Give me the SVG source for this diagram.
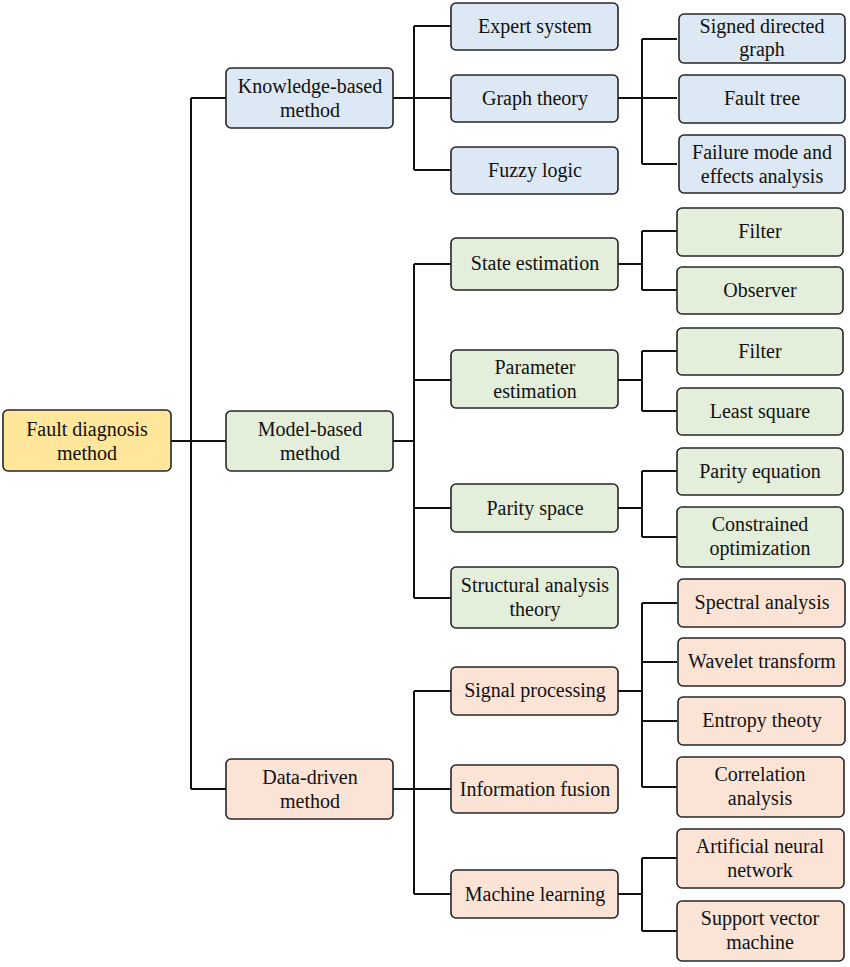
<svg xmlns="http://www.w3.org/2000/svg" width="850" height="967" viewBox="0 0 850 967">
<rect x="0" y="0" width="850" height="967" fill="#fff"/>
<g id="connectors" fill="none" stroke="#111" stroke-width="2">
<path d="M171 441H226M191 98V789M191 98H226M191 789H226"/>
<path d="M393 98H451M414 26V170M414 26H451M414 170H451"/>
<path d="M393 441H414M414 264V598M414 264H451M414 380H451M414 508H451M414 598H451"/>
<path d="M393 789H451M414 691V894M414 691H451M414 894H451"/>
<path d="M618 98H677M642 39V164M642 39H677M642 164H677"/>
<path d="M618 264H642M642 231V290M642 231H677M642 290H677"/>
<path d="M618 380H642M642 351V411M642 351H677M642 411H677"/>
<path d="M618 508H642M642 471V537M642 471H677M642 537H677"/>
<path d="M618 691H642M642 603V787M642 603H677M642 662H677M642 721H677M642 787H677"/>
<path d="M618 894H642M642 858V931M642 858H677M642 931H677"/>
</g>
<g font-family="Liberation Serif" font-size="20" text-anchor="middle" stroke="#262626" stroke-width="1.6">
<g id="root" fill="#ffe69a"><rect x="3" y="410" width="168" height="61" rx="5"/><text stroke="none" fill="#111" x="87" y="436">Fault diagnosis</text><text stroke="none" fill="#111" x="87" y="460">method</text></g>
<g id="knowledge" fill="#dce8f3"><rect x="226" y="68" width="167" height="60" rx="5"/><text stroke="none" fill="#111" x="310" y="93">Knowledge-based</text><text stroke="none" fill="#111" x="310" y="117">method</text></g>
<g id="model" fill="#e3efda"><rect x="226" y="411" width="167" height="60" rx="5"/><text stroke="none" fill="#111" x="310" y="436">Model-based</text><text stroke="none" fill="#111" x="310" y="460">method</text></g>
<g id="data" fill="#fbe4d5"><rect x="226" y="759" width="167" height="60" rx="5"/><text stroke="none" fill="#111" x="310" y="784">Data-driven</text><text stroke="none" fill="#111" x="310" y="808">method</text></g>
<g id="expert" fill="#dce8f3"><rect x="451" y="3" width="167" height="47" rx="5"/><text stroke="none" fill="#111" x="535" y="33">Expert system</text></g>
<g id="graph" fill="#dce8f3"><rect x="451" y="75" width="167" height="47" rx="5"/><text stroke="none" fill="#111" x="535" y="105">Graph theory</text></g>
<g id="fuzzy" fill="#dce8f3"><rect x="451" y="147" width="167" height="47" rx="5"/><text stroke="none" fill="#111" x="535" y="177">Fuzzy logic</text></g>
<g id="state" fill="#e3efda"><rect x="451" y="238" width="167" height="52" rx="5"/><text stroke="none" fill="#111" x="535" y="270">State estimation</text></g>
<g id="param" fill="#e3efda"><rect x="451" y="350" width="167" height="58" rx="5"/><text stroke="none" fill="#111" x="535" y="374">Parameter</text><text stroke="none" fill="#111" x="535" y="398">estimation</text></g>
<g id="parity" fill="#e3efda"><rect x="451" y="484" width="167" height="48" rx="5"/><text stroke="none" fill="#111" x="535" y="515">Parity space</text></g>
<g id="structural" fill="#e3efda"><rect x="451" y="567" width="167" height="61" rx="5"/><text stroke="none" fill="#111" x="535" y="592">Structural analysis</text><text stroke="none" fill="#111" x="535" y="616">theory</text></g>
<g id="signal" fill="#fbe4d5"><rect x="451" y="667" width="167" height="48" rx="5"/><text stroke="none" fill="#111" x="535" y="697">Signal processing</text></g>
<g id="fusion" fill="#fbe4d5"><rect x="451" y="765" width="167" height="48" rx="5"/><text stroke="none" fill="#111" x="535" y="796">Information fusion</text></g>
<g id="ml" fill="#fbe4d5"><rect x="451" y="870" width="167" height="48" rx="5"/><text stroke="none" fill="#111" x="535" y="901">Machine learning</text></g>
<g id="sdg" fill="#dce8f3"><rect x="679" y="14" width="166" height="49" rx="5"/><text stroke="none" fill="#111" x="762" y="33">Signed directed</text><text stroke="none" fill="#111" x="762" y="56">graph</text></g>
<g id="faulttree" fill="#dce8f3"><rect x="679" y="75" width="166" height="48" rx="5"/><text stroke="none" fill="#111" x="762" y="105">Fault tree</text></g>
<g id="fmea" fill="#dce8f3"><rect x="679" y="135" width="166" height="58" rx="5"/><text stroke="none" fill="#111" x="762" y="159">Failure mode and</text><text stroke="none" fill="#111" x="762" y="183">effects analysis</text></g>
<g id="filter1" fill="#e3efda"><rect x="677" y="208" width="166" height="48" rx="5"/><text stroke="none" fill="#111" x="760" y="238">Filter</text></g>
<g id="observer" fill="#e3efda"><rect x="677" y="267" width="166" height="47" rx="5"/><text stroke="none" fill="#111" x="760" y="297">Observer</text></g>
<g id="filter2" fill="#e3efda"><rect x="677" y="328" width="166" height="47" rx="5"/><text stroke="none" fill="#111" x="760" y="358">Filter</text></g>
<g id="least" fill="#e3efda"><rect x="677" y="388" width="166" height="47" rx="5"/><text stroke="none" fill="#111" x="760" y="418">Least square</text></g>
<g id="parityeq" fill="#e3efda"><rect x="677" y="448" width="166" height="47" rx="5"/><text stroke="none" fill="#111" x="760" y="478">Parity equation</text></g>
<g id="constrained" fill="#e3efda"><rect x="677" y="507" width="166" height="60" rx="5"/><text stroke="none" fill="#111" x="760" y="531">Constrained</text><text stroke="none" fill="#111" x="760" y="555">optimization</text></g>
<g id="spectral" fill="#fbe4d5"><rect x="678" y="579" width="167" height="48" rx="5"/><text stroke="none" fill="#111" x="762" y="609">Spectral analysis</text></g>
<g id="wavelet" fill="#fbe4d5"><rect x="678" y="638" width="167" height="48" rx="5"/><text stroke="none" fill="#111" x="762" y="668">Wavelet transform</text></g>
<g id="entropy" fill="#fbe4d5"><rect x="678" y="697" width="167" height="48" rx="5"/><text stroke="none" fill="#111" x="762" y="727">Entropy theoty</text></g>
<g id="correlation" fill="#fbe4d5"><rect x="677" y="757" width="167" height="60" rx="5"/><text stroke="none" fill="#111" x="760" y="781">Correlation</text><text stroke="none" fill="#111" x="760" y="805">analysis</text></g>
<g id="ann" fill="#fbe4d5"><rect x="677" y="829" width="167" height="59" rx="5"/><text stroke="none" fill="#111" x="760" y="853">Artificial neural</text><text stroke="none" fill="#111" x="760" y="877">network</text></g>
<g id="svm" fill="#fbe4d5"><rect x="677" y="901" width="167" height="60" rx="5"/><text stroke="none" fill="#111" x="760" y="925">Support vector</text><text stroke="none" fill="#111" x="760" y="949">machine</text></g>
</g>
</svg>
